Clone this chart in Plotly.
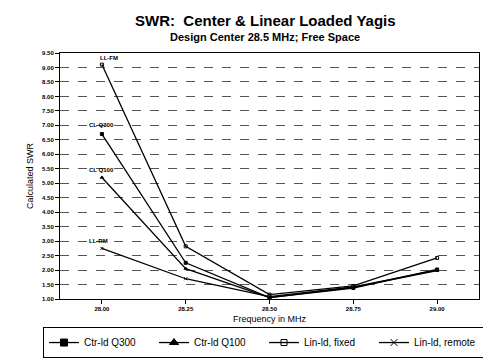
import plotly.graph_objects as go

freq = [28.00, 28.25, 28.50, 28.75, 29.00]
freq_labels = ["28.00", "28.25", "28.50", "28.75", "29.00"]
ctr_q300 = [6.70, 2.25, 1.05, 1.38, 2.02]
ctr_q100 = [5.20, 2.05, 1.05, 1.40, 1.98]
lin_fixed = [9.10, 2.82, 1.15, 1.45, 2.42]
lin_remote = [2.75, 1.70, 1.08, 1.42, 2.00]

yticks = [1.0 + 0.5 * i for i in range(18)]

FONT = "Liberation Sans, Arial, sans-serif"
fig = go.Figure()

series = [
    ("Ctr-ld Q300", ctr_q300, "square", 3, 7),
    ("Ctr-ld Q100", ctr_q100, "triangle-up", 3, 8),
    ("Lin-ld, fixed", lin_fixed, "square-open", 3, 6),
    ("Lin-ld, remote", lin_remote, "x-thin-open", 3, 7),
]
for name, vals, sym, sz, lsz in series:
    fig.add_trace(go.Scatter(
        x=freq, y=vals, name=name, mode="lines+markers", showlegend=False,
        line=dict(color="black", width=1.3),
        marker=dict(symbol=sym, size=sz, color="black",
                    line=dict(color="black", width=1)),
    ))
for name, vals, sym, sz, lsz in series:
    fig.add_trace(go.Scatter(
        x=[None], y=[None], name=name, mode="lines+markers",
        line=dict(color="black", width=1.3),
        marker=dict(symbol=sym, size=lsz, color="black",
                    line=dict(color="black", width=1)),
    ))

labels = [("LL-FM", 28.02, 9.34), ("CL Q300", 28.0, 7.0),
          ("CL Q100", 28.0, 5.45), ("LL-RM", 27.99, 2.99)]
for t, x, y in labels:
    fig.add_annotation(x=x, y=y, text=t, showarrow=False,
                       font=dict(family=FONT, size=6, color="black", weight="bold"))

fig.add_annotation(xref="paper", yref="paper", x=(257 - 52) / 419, y=(291 - 13) / 246,
                   text="<b>SWR:  Center & Linear Loaded Yagis</b>", showarrow=False,
                   xanchor="center", yanchor="middle",
                   font=dict(family=FONT, size=15, color="black"))
fig.add_annotation(xref="paper", yref="paper", x=(257 - 52) / 419, y=(291 - 29) / 246,
                   text="<b>Design Center 28.5 MHz; Free Space</b>", showarrow=False,
                   xanchor="center", yanchor="middle",
                   font=dict(family=FONT, size=11, color="black"))

fig.update_layout(
    width=491, height=361,
    margin=dict(l=52, r=20, t=45, b=70, autoexpand=False),
    paper_bgcolor="white", plot_bgcolor="white",
    font=dict(family=FONT, color="black"),
    showlegend=True,
    legend=dict(
        orientation="h", x=(35 - 52) / 419, xanchor="left",
        y=-0.114, yanchor="top",
        bordercolor="black", borderwidth=1, bgcolor="white",
        font=dict(size=10, family=FONT),
        entrywidth=65, entrywidthmode="pixels",
    ),
)
fig.update_xaxes(
    range=[27.875, 29.125], tickvals=freq, ticktext=freq_labels,
    showgrid=False, showline=True, linecolor="black", linewidth=1, mirror=True,
    ticks="outside", ticklen=4, tickcolor="black", zeroline=False,
    tickfont=dict(size=6, family=FONT, weight="bold"),
    title=dict(text="Frequency in MHz", font=dict(size=9, family=FONT), standoff=4),
)
fig.update_yaxes(
    range=[1.0, 9.5], tickvals=yticks, ticktext=[f"{v:.2f}" for v in yticks],
    showgrid=True, gridcolor="#555555", gridwidth=1, griddash="dash",
    showline=True, linecolor="black", linewidth=1, mirror=True,
    ticks="outside", ticklen=4, tickcolor="black", zeroline=False,
    tickfont=dict(size=6, family=FONT, weight="bold"),
    title=dict(text="Calculated SWR", font=dict(size=9, family=FONT), standoff=6),
)

fig.write_html("out.html")
